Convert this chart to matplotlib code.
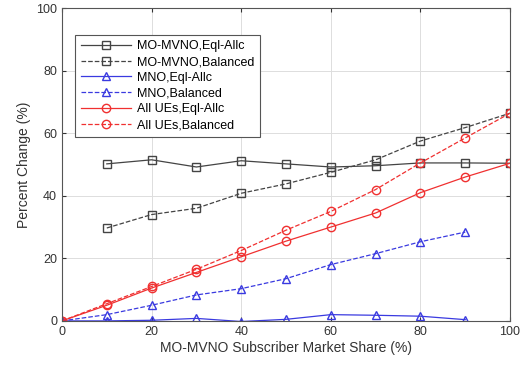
from matplotlib import pyplot as plt
import numpy as np

share = np.arange(0, 101, 10)
share_mno = np.arange(0, 91, 10)
share_mvno = np.arange(10, 101, 10)

mvno_eql = [50.2, 51.5, 49.2, 51.2, 50.2, 49.2, 49.6, 50.5, 50.5, 50.4]
mvno_bal = [29.7, 34.0, 36.0, 40.8, 43.8, 47.5, 51.5, 57.5, 61.8, 66.4]
mno_eql = [0.0, 0.0, 0.2, 0.8, -0.2, 0.5, 2.0, 1.8, 1.5, 0.4]
mno_bal = [0.0, 2.0, 5.0, 8.3, 10.3, 13.5, 18.0, 21.5, 25.3, 28.4]
all_eql = [0.0, 5.0, 10.5, 15.5, 20.5, 25.5, 30.0, 34.5, 41.0, 46.0, 50.4]
all_bal = [0.0, 5.5, 11.0, 16.5, 22.5, 29.0, 35.0, 42.0, 50.5, 58.5, 66.4]

plt.rcParams['font.family'] = ['Liberation Sans', 'DejaVu Sans']
fig = plt.figure(figsize=(5.21, 3.68), dpi=100)
ax = fig.add_axes([0.119, 0.128, 0.86, 0.85])

mk = dict(markersize=6, markerfacecolor='none', linewidth=0.9)
ax.plot(share_mvno, mvno_eql, '-', marker='s', color='#444444', label='MO-MVNO,Eql-Allc', **mk)
ax.plot(share_mvno, mvno_bal, '--', marker='s', color='#444444', label='MO-MVNO,Balanced', **mk)
ax.plot(share_mno, mno_eql, '-', marker='^', color='#3a3ae0', label='MNO,Eql-Allc', **mk)
ax.plot(share_mno, mno_bal, '--', marker='^', color='#3a3ae0', label='MNO,Balanced', **mk)
ax.plot(share, all_eql, '-', marker='o', color='#f03030', label='All UEs,Eql-Allc', **mk)
ax.plot(share, all_bal, '--', marker='o', color='#f03030', label='All UEs,Balanced', **mk)

ax.set_xlim(0, 100)
ax.set_ylim(0, 100)
ax.set_xticks(np.arange(0, 101, 20))
ax.set_yticks(np.arange(0, 101, 20))
ax.grid(True, color='#dddddd', linewidth=0.7)
ax.tick_params(direction='in', labelsize=9, colors='#333333', length=3, top=True, right=True)
for s in ax.spines.values():
    s.set_color('#555555')
    s.set_linewidth(0.8)
ax.set_xlabel('MO-MVNO Subscriber Market Share (%)', fontsize=10, color='#333333', labelpad=2)
ax.set_ylabel('Percent Change (%)', fontsize=10, color='#333333', labelpad=4)

leg = ax.legend(loc='upper left', bbox_to_anchor=(0.015, 0.935), fontsize=9, fancybox=False,
                framealpha=1, edgecolor='#555555', handlelength=4.0, labelspacing=0.3,
                borderpad=0.45, handletextpad=0.5)
leg.get_frame().set_linewidth(0.8)

fig.savefig('out.png', dpi=100)
